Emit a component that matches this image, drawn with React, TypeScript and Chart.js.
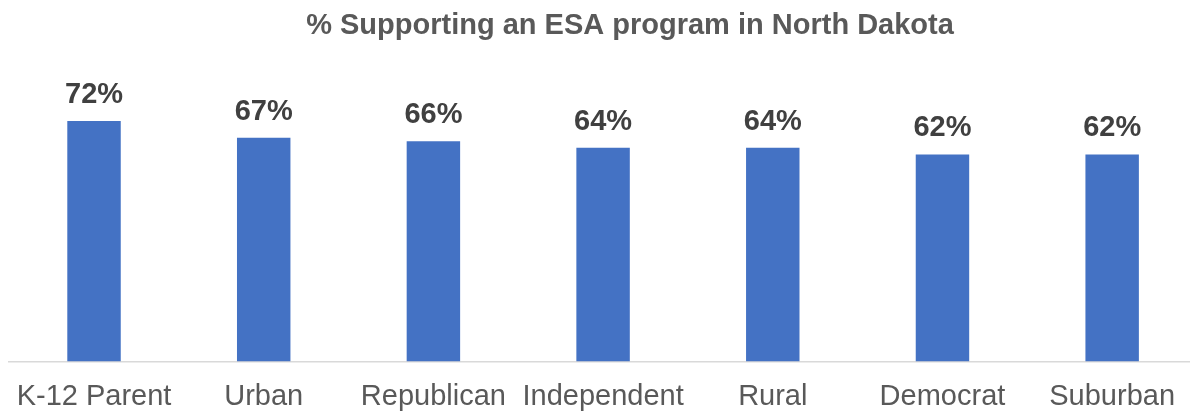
import React, { useEffect, useRef } from "react";
import { Chart, registerables } from "chart.js";

Chart.register(...registerables);

const categories = ["K-12 Parent", "Urban", "Republican", "Independent", "Rural", "Democrat", "Suburban"];
const supportValues = [72, 67, 66, 64, 64, 62, 62];
const titleText = "% Supporting an ESA program in North Dakota";

const FONT = "'Liberation Sans', Arial, Helvetica, sans-serif";

const dataLabelPlugin = {
  id: "dataLabels",
  afterDatasetsDraw(chart: any) {
    const ctx = chart.ctx;
    const meta = chart.getDatasetMeta(0);
    ctx.save();
    ctx.font = `bold 29px ${FONT}`;
    ctx.fillStyle = "#404040";
    ctx.textAlign = "center";
    ctx.textBaseline = "alphabetic";
    meta.data.forEach((bar: any, i: number) => {
      const v = chart.data.datasets[0].data[i];
      ctx.fillText(`${v}%`, bar.x, bar.y - 18);
    });
    ctx.restore();
  },
};

export default function App() {
  const canvasRef = useRef<HTMLCanvasElement | null>(null);

  useEffect(() => {
    if (!canvasRef.current) return;
    const chart = new Chart(canvasRef.current, {
      type: "bar",
      data: {
        labels: categories,
        datasets: [
          {
            data: supportValues,
            backgroundColor: "#4472C4",
            borderWidth: 0,
            categoryPercentage: 1,
            barPercentage: 0.315,
          },
        ],
      },
      options: {
        animation: false,
        responsive: true,
        maintainAspectRatio: false,
        layout: { padding: { left: 9, right: 9, top: 0, bottom: 0 } },
        plugins: {
          legend: { display: false },
          tooltip: { enabled: false },
          title: {
            display: true,
            text: titleText,
            color: "#595959",
            font: { family: FONT, size: 29, weight: "bold" },
            padding: { top: 8.5, bottom: 51.1 },
          },
        },
        scales: {
          x: {
            grid: { display: false, drawTicks: false },
            border: { display: true, color: "#D9D9D9", width: 1.5 },
            ticks: {
              color: "#595959",
              font: { family: FONT, size: 29, lineHeight: 1.3655 },
              padding: 16,
              maxRotation: 0,
              autoSkip: false,
            },
          },
          y: {
            display: true,
            position: "right",
            min: 0,
            max: 80,
            grid: { display: false, drawTicks: false },
            border: { display: false },
            ticks: { display: false },
            afterFit: (scale: any) => {
              scale.width = 54;
            },
          },
        },
      },
      plugins: [dataLabelPlugin],
    });
    return () => chart.destroy();
  }, []);

  return (
    <div style={{ position: "absolute", left: 0, top: 0, width: 1190, height: 411, overflow: "hidden", background: "#fff" }}>
      <div style={{ position: "relative", width: 1260, height: 433 }}>
        <canvas ref={canvasRef} />
      </div>
    </div>
  );
}
